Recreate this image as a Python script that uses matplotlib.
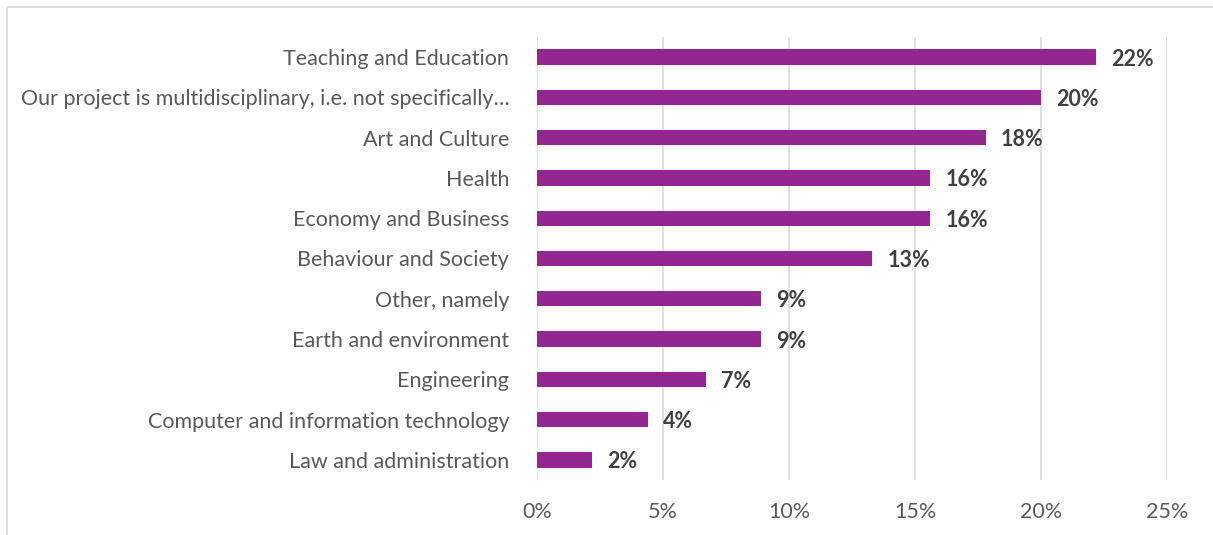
import numpy as np
from matplotlib import pyplot as plt
from matplotlib.patches import Rectangle

categories = ['Teaching and Education',
              'Our project is multidisciplinary, i.e. not specifically…',
              'Art and Culture', 'Health', 'Economy and Business',
              'Behaviour and Society', 'Other, namely',
              'Earth and environment', 'Engineering',
              'Computer and information technology',
              'Law and administration']
values = [22.2, 20.0, 17.8, 15.6, 15.6, 13.3, 8.9, 8.9, 6.7, 4.4, 2.2]
value_labels = ['22%', '20%', '18%', '16%', '16%', '13%', '9%', '9%', '7%', '4%', '2%']
xticks = [0, 5, 10, 15, 20, 25]

plt.rcParams['font.family'] = ['Lato', 'DejaVu Sans']

fig = plt.figure(figsize=(12.13, 5.35), dpi=100)
ax = fig.add_axes([537 / 1213, 1 - 480 / 535, 630 / 1213, 443 / 535])

y = np.arange(len(categories))
ax.barh(y, values, height=0.38, color='#92278f', zorder=3)
for yi, v, lab in zip(y, values, value_labels):
    ax.text(v + 0.6, yi + 0.05, lab, va='center', ha='left', fontsize=15.5,
            fontweight='bold', color='#404040')

ax.set_ylim(len(categories) - 0.5, -0.5)
ax.set_xlim(0, 25)
ax.set_yticks(y)
ax.set_yticklabels(categories, fontsize=15.5, color='#595959')
ax.set_xticks(xticks)
ax.set_xticklabels([f'{t}%' for t in xticks], fontsize=15.5, color='#595959')
ax.tick_params(axis='both', length=0)
ax.tick_params(axis='y', pad=20)
ax.tick_params(axis='x', pad=16)
ax.grid(axis='x', color='#d9d9d9', lw=1.2, zorder=0)
for s in ax.spines.values():
    s.set_visible(False)

fig.patches.append(Rectangle((7 / 1213, -0.1), 1.2, 1 - 7 / 535 + 0.1,
                             transform=fig.transFigure, fill=False,
                             edgecolor='#d9d9d9', lw=1.2))

fig.savefig('out.png', dpi=100)
